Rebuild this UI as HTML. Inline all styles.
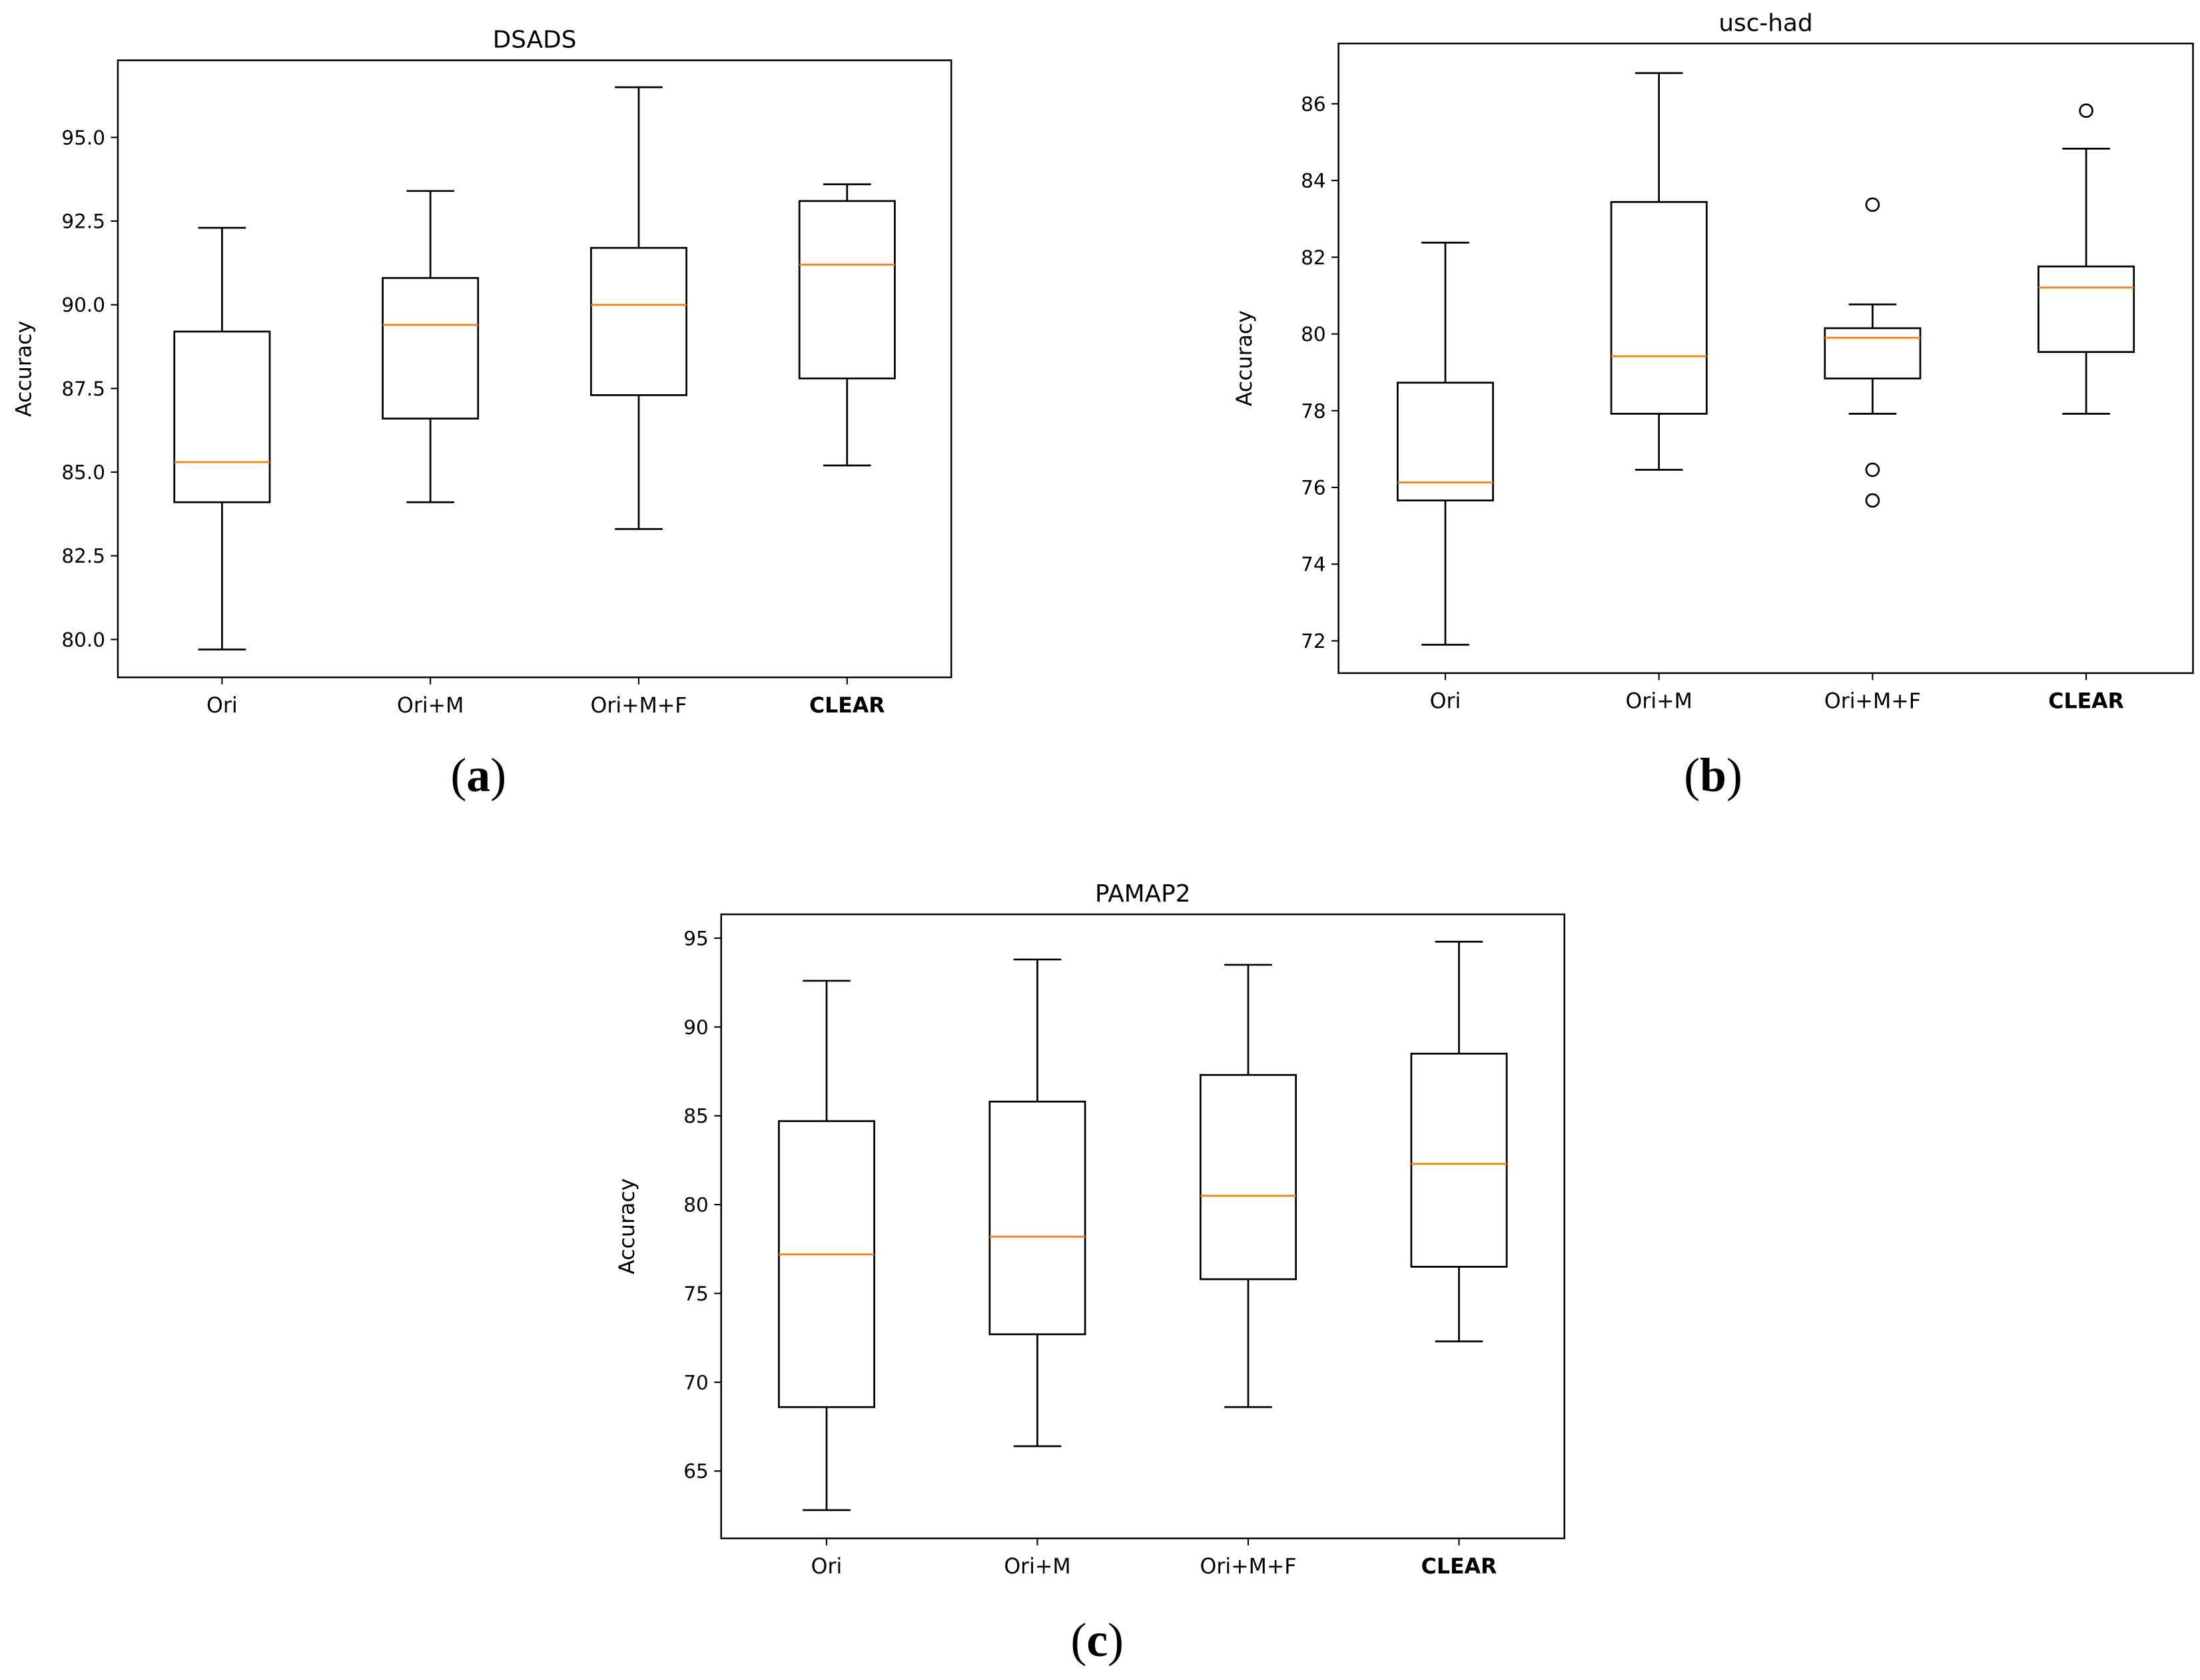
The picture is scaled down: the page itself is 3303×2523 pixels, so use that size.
<!DOCTYPE html>
<html><head><meta charset="utf-8"><style>
html,body{margin:0;padding:0;background:#fff;}
svg{display:block;}
text{font-family:"DejaVu Sans","Liberation Sans",sans-serif;}
text.cap{font-family:"Liberation Serif",serif;}
</style></head><body>
<svg id="root" xmlns="http://www.w3.org/2000/svg" width="3303" height="2523" viewBox="0 0 1568 1198" preserveAspectRatio="none">
<rect width="1568" height="1198" fill="#fff"/>
<text class="cap" x="341" y="564" font-size="34" text-anchor="middle">(<tspan font-weight="bold">a</tspan>)</text>
<text class="cap" x="1221" y="564" font-size="34" text-anchor="middle">(<tspan font-weight="bold">b</tspan>)</text>
<text class="cap" x="782" y="1181" font-size="34" text-anchor="middle">(<tspan font-weight="bold">c</tspan>)</text>
</svg>
<script>
const categories = ["Ori","Ori+M","Ori+M+F","CLEAR"];
// [low, q1, median, q3, high]
const dsadsStats = [[79.7,84.1,85.3,89.2,92.3],[84.1,86.6,89.4,90.8,93.4],[83.3,87.3,90.0,91.7,96.5],[85.2,87.8,91.2,93.1,93.6]];
const dsadsFliers = [[],[],[],[]];
const dsadsTicks = [80.0,82.5,85.0,87.5,90.0,92.5,95.0];
const uscStats = [[71.9,75.66,76.13,78.73,82.38],[76.46,77.92,79.42,83.44,86.8],[77.92,78.84,79.9,80.15,80.77],[77.92,79.53,81.21,81.76,84.83]];
const uscFliers = [[],[],[83.37,76.46,75.66],[85.82]];
const uscTicks = [72,74,76,78,80,82,84,86];
const pamapStats = [[62.8,68.6,77.2,84.7,92.6],[66.4,72.7,78.2,85.8,93.8],[68.6,75.8,80.5,87.3,93.5],[72.3,76.5,82.3,88.5,94.8]];
const pamapFliers = [[],[],[],[]];
const pamapTicks = [65,70,75,80,85,90,95];

const NS="http://www.w3.org/2000/svg";
const root=document.getElementById('root');
function mk(tag,attrs,parent){const e=document.createElementNS(NS,tag);for(const k in attrs)e.setAttribute(k,attrs[k]);(parent||root).appendChild(e);return e;}

function chart(cfg){
  const g=mk('g',{});
  
  
  const {x0,x1,y0,y1}=cfg.frame;
  const yS=v=>cfg.refY0+(v-cfg.refV0)*(cfg.refY1-cfg.refY0)/(cfg.refV1-cfg.refV0);
  const xS=i=>x0+(x1-x0)*(i+0.5)/categories.length;
  const fr=mk('rect',{x:x0,y:y0,width:x1-x0,height:y1-y0,fill:'none',stroke:'#000','stroke-width':1.2},g);
  
  
  const t=mk('text',{x:(x0+x1)/2,y:y0-9,'font-size':17,'text-anchor':'middle'},g);
  t.textContent=cfg.title;
  
  
  cfg.ticks.forEach(v=>{
    const y=yS(v);
    mk('line',{x1:x0-5,x2:x0,y1:y,y2:y,stroke:'#000','stroke-width':1},g);
    const tl=mk('text',{x:x0-9,y:y+5,'font-size':14,'text-anchor':'end'},g);
    tl.textContent=cfg.fmt(v);
    
    
  });
  const yl=mk('text',{x:0,y:0,'font-size':15,'text-anchor':'middle',transform:`translate(${x0-62},${(y0+y1)/2}) rotate(-90)`},g);
  yl.textContent='Accuracy';
  
  
  const w=34;
  categories.forEach((c,i)=>{
    const cx=xS(i);
    mk('line',{x1:cx,x2:cx,y1:y1,y2:y1+5,stroke:'#000','stroke-width':1},g);
    const xl=mk('text',{x:cx,y:y1+25,'font-size':15,'text-anchor':'middle','font-weight':c==='CLEAR'?'bold':'normal'},g);
    xl.textContent=c;
    
    
    const s=cfg.stats[i];
    const bg=mk('g',{},g);
    
    
    mk('line',{x1:cx,x2:cx,y1:yS(s[0]),y2:yS(s[1]),stroke:'#000','stroke-width':1.3},bg);
    mk('line',{x1:cx,x2:cx,y1:yS(s[3]),y2:yS(s[4]),stroke:'#000','stroke-width':1.3},bg);
    mk('line',{x1:cx-w/2,x2:cx+w/2,y1:yS(s[0]),y2:yS(s[0]),stroke:'#000','stroke-width':1.3},bg);
    mk('line',{x1:cx-w/2,x2:cx+w/2,y1:yS(s[4]),y2:yS(s[4]),stroke:'#000','stroke-width':1.3},bg);
    mk('rect',{x:cx-w,y:yS(s[3]),width:2*w,height:yS(s[1])-yS(s[3]),fill:'none',stroke:'#000','stroke-width':1.3},bg);
    mk('line',{x1:cx-w,x2:cx+w,y1:yS(s[2]),y2:yS(s[2]),stroke:'#ff7f0e','stroke-width':1.3},bg);
    cfg.fliers[i].forEach(f=>{
      const fc=mk('circle',{cx:cx,cy:yS(f),r:4.5,fill:'none',stroke:'#000','stroke-width':1.3},bg);
      
      
    });
  });
}
chart({name:'dsads-chart',title:'DSADS',frame:{x0:84,x1:678,y0:43,y1:483},refV0:95,refY0:98,refV1:80,refY1:456,ticks:dsadsTicks,fmt:v=>v.toFixed(1),stats:dsadsStats,fliers:dsadsFliers});
chart({name:'usc-had-chart',title:'usc-had',frame:{x0:954,x1:1563,y0:31,y1:480},refV0:86,refY0:74,refV1:72,refY1:457,ticks:uscTicks,fmt:v=>String(v),stats:uscStats,fliers:uscFliers});
chart({name:'pamap2-chart',title:'PAMAP2',frame:{x0:514,x1:1115,y0:652,y1:1097},refV0:95,refY0:669,refV1:65,refY1:1049,ticks:pamapTicks,fmt:v=>String(v),stats:pamapStats,fliers:pamapFliers});
</script>
</body></html>
